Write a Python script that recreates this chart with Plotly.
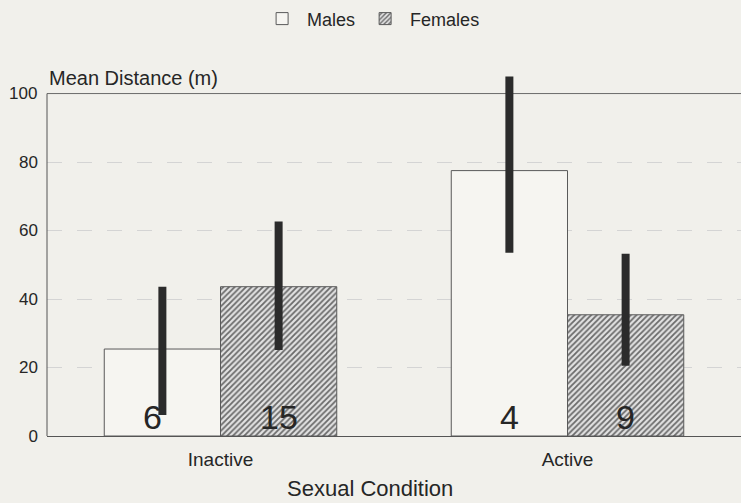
import plotly.graph_objects as go

categories = ["Inactive", "Active"]
males = [25.4, 77.5]
females = [43.6, 35.4]
males_err_plus = [18.2, 27.5]
males_err_minus = [19.3, 24.0]
females_err_plus = [19.0, 17.8]
females_err_minus = [18.5, 14.9]
males_n = ["6", "4"]
females_n = ["15", "9"]
y_ticks = [0, 20, 40, 60, 80, 100]

FONT = "Liberation Sans, Arial, Helvetica, sans-serif"
BG = "#f1f0eb"
INK = "#262626"
ERR = "#2b2b2b"

W, H = 741, 503
ML, MR, MT, MB = 47, 0, 73, 67
BARGAP = 0.33
XRANGE = [-0.5, 1.5]

fig = go.Figure()
fig.add_trace(go.Bar(
    name="Males", x=categories, y=males,
    marker=dict(color="#f6f5f1", line=dict(color="#5a5a5a", width=1)),
    error_y=dict(type="data", symmetric=False, array=males_err_plus,
                 arrayminus=males_err_minus, color=ERR, thickness=8, width=0),
))
fig.add_trace(go.Bar(
    name="Females", x=categories, y=females,
    marker=dict(color="#dcdcdc", line=dict(color="#5a5a5a", width=1),
                pattern=dict(shape="/", size=4, solidity=0.45,
                             fgcolor="#6a6a6a", bgcolor="#e2e2e2", fillmode="replace")),
    error_y=dict(type="data", symmetric=False, array=females_err_plus,
                 arrayminus=females_err_minus, color=ERR, thickness=8, width=0),
))

fig.update_layout(
    width=W, height=H,
    margin=dict(l=ML, r=MR, t=MT, b=MB, autoexpand=False),
    paper_bgcolor=BG, plot_bgcolor=BG,
    barmode="group", bargap=BARGAP, bargroupgap=0,
    font=dict(family=FONT, color=INK, size=16),
    showlegend=True,
    legend=dict(orientation="h", x=0.467, xanchor="center", y=1.2, yanchor="top",
                font=dict(size=18, family=FONT, color=INK), bgcolor="rgba(0,0,0,0)",
                itemwidth=40, traceorder="normal"),
)
fig.update_xaxes(
    range=XRANGE, showline=True, linecolor="#555", linewidth=1,
    showgrid=False, ticks="", tickfont=dict(size=19, family=FONT, color=INK),
    ticklabelstandoff=6, automargin=False,
)
fig.update_yaxes(
    range=[0, 106], tickvals=y_ticks[:-1], ticktext=[str(v) for v in y_ticks[:-1]],
    showline=False, zeroline=False,
    showgrid=True, gridcolor="#d4d4d4", griddash="longdash", gridwidth=1,
    tickfont=dict(size=17, family=FONT, color=INK), ticks="", ticklabelstandoff=8,
    automargin=False,
)
# top frame line at 100 and left axis line up to 100
fig.add_shape(type="line", xref="paper", yref="y", x0=0, x1=1, y0=y_ticks[-1], y1=y_ticks[-1],
              line=dict(color="#6a6a6a", width=1), layer="between")
fig.add_shape(type="line", xref="paper", yref="y", x0=0, x1=0, y0=0, y1=y_ticks[-1],
              line=dict(color="#555", width=1), layer="above")
fig.add_annotation(text=str(y_ticks[-1]), xref="paper", yref="y", x=0, y=y_ticks[-1],
                   xanchor="right", yanchor="middle", xshift=-8, showarrow=False,
                   font=dict(size=17, family=FONT, color=INK))
fig.add_annotation(text="Mean Distance (m)", xref="paper", yref="y", x=0, y=y_ticks[-1],
                   xanchor="left", yanchor="bottom", yshift=3, showarrow=False,
                   font=dict(size=20, family=FONT, color=INK))
fig.add_annotation(text="Sexual Condition", xref="paper", yref="paper", x=0.4654, y=-0.145,
                   xanchor="center", yanchor="middle", showarrow=False,
                   font=dict(size=22, family=FONT, color=INK))

# sample-size labels at the foot of each bar (group offset = half a bar width, in px)
px_per_cat = (W - ML - MR) / (XRANGE[1] - XRANGE[0])
half_bar = (1 - BARGAP) / 2 * px_per_cat / 2
label_nudge = {("Males", 0): -10}
for name, labels, side in (("Males", males_n, -1), ("Females", females_n, 1)):
    for i, (cat, lab) in enumerate(zip(categories, labels)):
        fig.add_annotation(text=lab, x=cat, y=0, xref="x", yref="y",
                           xanchor="center", yanchor="bottom", yshift=-2,
                           xshift=side * half_bar + label_nudge.get((name, i), 0),
                           showarrow=False, font=dict(size=34, family=FONT, color=INK))

fig.write_html("out.html", config={"displayModeBar": False},
               post_script="document.body.style.margin='0';document.body.style.background='%s';" % BG)
